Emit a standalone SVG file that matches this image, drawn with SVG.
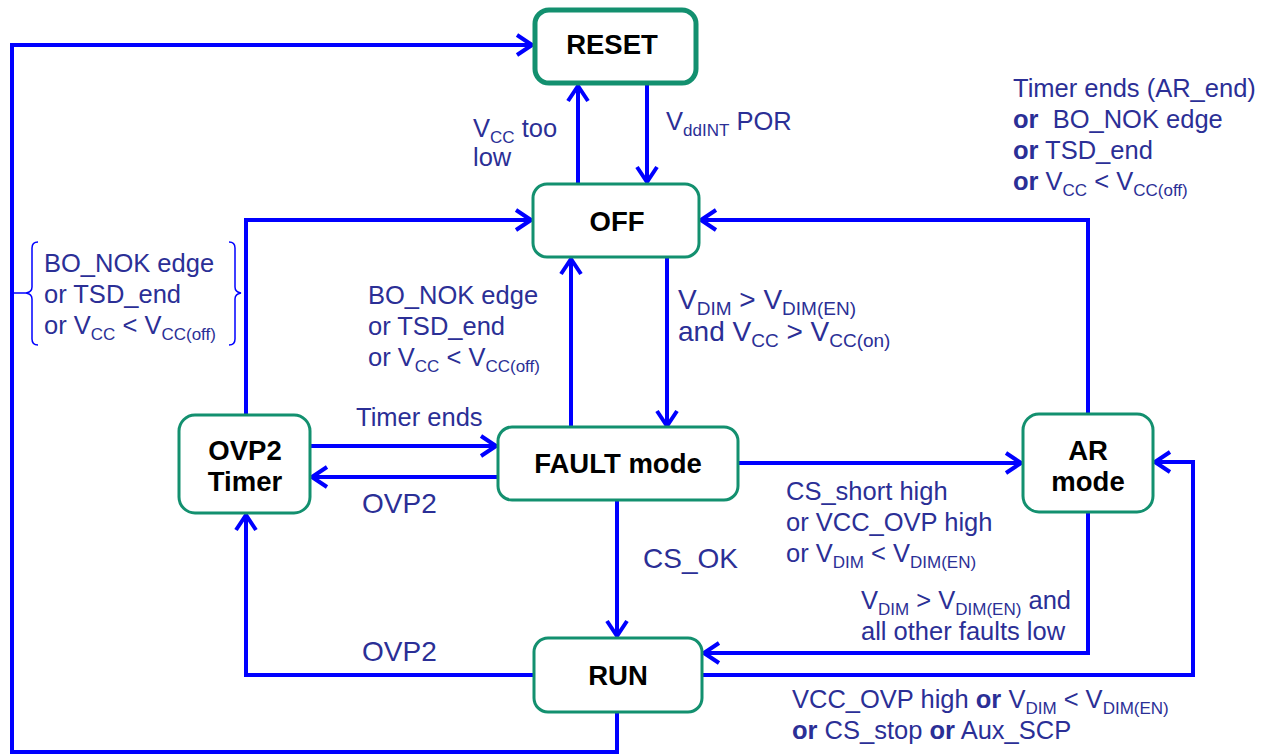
<svg xmlns="http://www.w3.org/2000/svg" width="1265" height="754" viewBox="0 0 1265 754">
<style>
.box{fill:#fff;stroke:#13906F;stroke-width:3}
.nt{font-family:"Liberation Sans",Arial,sans-serif;font-size:27.5px;font-weight:bold;fill:#000;text-anchor:middle}
.lbl{font-family:"Liberation Sans",Arial,sans-serif;font-size:25.5px;fill:#2B2F96}
.big{font-size:28px}
.sub{font-size:17px}
.big .sub{font-size:19px}
.b{font-weight:bold}
.c{fill:none;stroke:#0000FF;stroke-width:4}
.br{fill:none;stroke:#0000FF;stroke-width:1.5}
</style>
<defs>
<marker id="ah" viewBox="0 0 20 24" refX="17" refY="12" markerWidth="20" markerHeight="24" markerUnits="userSpaceOnUse" orient="auto">
<path d="M2,2 L17,12 L2,22" fill="none" stroke="#0000FF" stroke-width="4"/>
</marker>
</defs>
<rect width="1265" height="754" fill="#fff"/>
<g id="connectors">
<path class="c" d="M617,712 V752 H12 V45 H532" marker-end="url(#ah)"/>
<path class="c" d="M578,184 V86" marker-end="url(#ah)"/>
<path class="c" d="M647,84 V182" marker-end="url(#ah)"/>
<path class="c" d="M246,414 V220 H531" marker-end="url(#ah)"/>
<path class="c" d="M1088,413 V220 H701" marker-end="url(#ah)"/>
<path class="c" d="M667,257 V426" marker-end="url(#ah)"/>
<path class="c" d="M571,427 V259" marker-end="url(#ah)"/>
<path class="c" d="M310,446 H496" marker-end="url(#ah)"/>
<path class="c" d="M498,477 H312" marker-end="url(#ah)"/>
<path class="c" d="M738,463 H1021" marker-end="url(#ah)"/>
<path class="c" d="M617,500 V636" marker-end="url(#ah)"/>
<path class="c" d="M1088,512 V653 H704" marker-end="url(#ah)"/>
<path class="c" d="M702,675 H1193 V462 H1155" marker-end="url(#ah)"/>
<path class="c" d="M534,675 H246 V515" marker-end="url(#ah)"/>
</g>
<g id="RESET"><rect class="box" x="535" y="10" width="161" height="73" rx="14" style="stroke-width:5"/><text class="nt" x="612" y="54">RESET</text></g>
<g id="OFF"><rect class="box" x="533" y="184" width="166" height="73" rx="14"/><text class="nt" x="617" y="231">OFF</text></g>
<g id="FAULT"><rect class="box" x="498" y="427" width="240" height="73" rx="14"/><text class="nt" x="618" y="473">FAULT mode</text></g>
<g id="OVP2Timer"><rect class="box" x="179" y="415" width="131" height="98" rx="16"/><text class="nt" x="245" y="460">OVP2</text><text class="nt" x="245" y="491">Timer</text></g>
<g id="AR"><rect class="box" x="1023" y="414" width="130" height="98" rx="16"/><text class="nt" x="1088" y="460">AR</text><text class="nt" x="1088" y="491">mode</text></g>
<g id="RUN"><rect class="box" x="534" y="638" width="168" height="74" rx="14"/><text class="nt" x="618" y="685">RUN</text></g>
<g id="labels">
<text class="lbl" x="473" y="137">V<tspan class="sub" dy="6">CC</tspan><tspan dy="-6"> too</tspan></text>
<text class="lbl" x="473" y="166">low</text>
<text class="lbl" x="666" y="130">V<tspan class="sub" dy="6">ddINT</tspan><tspan dy="-6"> POR</tspan></text>
<text class="lbl" x="1013" y="97">Timer ends (AR_end)</text>
<text class="lbl" x="1013" y="128"><tspan class="b">or</tspan>&#160; BO_NOK edge</text>
<text class="lbl" x="1013" y="159"><tspan class="b">or</tspan> TSD_end</text>
<text class="lbl" x="1013" y="190"><tspan class="b">or</tspan> V<tspan class="sub" dy="6">CC</tspan><tspan dy="-6"> &lt; V</tspan><tspan class="sub" dy="6">CC(off)</tspan></text>
<text class="lbl" x="44" y="272">BO_NOK edge</text>
<text class="lbl" x="44" y="303">or TSD_end</text>
<text class="lbl" x="44" y="334">or V<tspan class="sub" dy="6">CC</tspan><tspan dy="-6"> &lt; V</tspan><tspan class="sub" dy="6">CC(off)</tspan></text>
<path class="br" d="M38,242 Q32,242 32,248 L32,287 Q32,292 26,293 L14,293 M26,293 Q32,294 32,299 L32,339 Q32,345 38,345"/>
<path class="br" d="M229,242 Q235,242 235,248 L235,287 Q235,292 241,293 Q235,294 235,299 L235,339 Q235,345 229,345"/>
<text class="lbl" x="368" y="304">BO_NOK edge</text>
<text class="lbl" x="368" y="335">or TSD_end</text>
<text class="lbl" x="368" y="366">or V<tspan class="sub" dy="6">CC</tspan><tspan dy="-6"> &lt; V</tspan><tspan class="sub" dy="6">CC(off)</tspan></text>
<text class="lbl big" x="678" y="309">V<tspan class="sub" dy="6">DIM</tspan><tspan dy="-6"> &gt; V</tspan><tspan class="sub" dy="6">DIM(EN)</tspan></text>
<text class="lbl big" x="678" y="341">and V<tspan class="sub" dy="6">CC</tspan><tspan dy="-6"> &gt; V</tspan><tspan class="sub" dy="6">CC(on)</tspan></text>
<text class="lbl" x="356" y="426">Timer ends</text>
<text class="lbl big" x="362" y="513">OVP2</text>
<text class="lbl" x="786" y="500">CS_short high</text>
<text class="lbl" x="786" y="531">or VCC_OVP high</text>
<text class="lbl" x="786" y="562">or V<tspan class="sub" dy="6">DIM</tspan><tspan dy="-6"> &lt; V</tspan><tspan class="sub" dy="6">DIM(EN)</tspan></text>
<text class="lbl big" x="643" y="568">CS_OK</text>
<text class="lbl" x="861" y="609">V<tspan class="sub" dy="6">DIM</tspan><tspan dy="-6"> &gt; V</tspan><tspan class="sub" dy="6">DIM(EN)</tspan><tspan dy="-6"> and</tspan></text>
<text class="lbl" x="861" y="640">all other faults low</text>
<text class="lbl big" x="362" y="661">OVP2</text>
<text class="lbl" x="792" y="708">VCC_OVP high <tspan class="b">or</tspan> V<tspan class="sub" dy="6">DIM</tspan><tspan dy="-6"> &lt; V</tspan><tspan class="sub" dy="6">DIM(EN)</tspan></text>
<text class="lbl" x="792" y="739"><tspan class="b">or</tspan> CS_stop <tspan class="b">or</tspan> Aux_SCP</text>
</g>
</svg>
